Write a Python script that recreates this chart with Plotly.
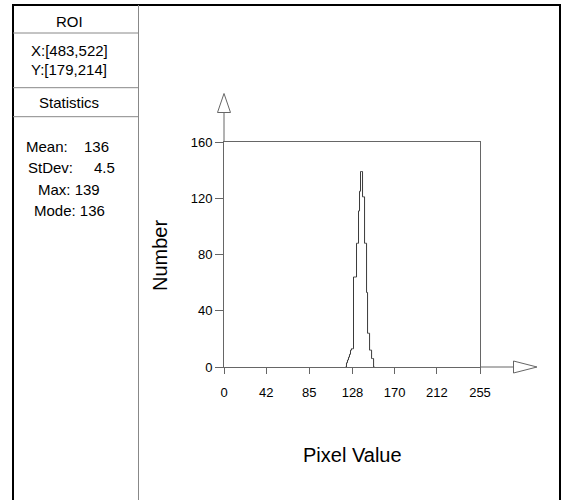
import plotly.graph_objects as go

# ---- data ----
pixel_values = list(range(121, 151))
counts = [0, 3, 5, 7, 9, 12, 13, 13, 64, 64, 64, 88, 88, 111, 125, 139, 139,
          121, 121, 88, 88, 53, 24, 24, 12, 12, 6, 6, 0, 0]
x_ticks = [0, 42, 85, 128, 170, 212, 255]
y_ticks = [0, 40, 80, 120, 160]
x_range = [0, 255]
y_range = [0, 160]

roi_header = "ROI"
roi_x = "X:[483,522]"
roi_y = "Y:[179,214]"
stats_header = "Statistics"
stat_rows = [("Mean:", "136"), ("StDev:", "4.5")]
stat_single = ["Max: 139", "Mode: 136"]

# ---- layout geometry (pixels) ----
W, H = 562, 500
L, R, T, B = 224, 480, 142, 367
FONT = "Liberation Sans, Arial, sans-serif"
AX = "#666666"


def px(x):
    return (x - L) / (R - L)


def py(y):
    return (B - y) / (B - T)


fig = go.Figure()
fig.add_trace(go.Scatter(x=pixel_values, y=counts, mode="lines",
                         line=dict(color="#3a3a3a", width=1, shape="hv"),
                         hoverinfo="skip", showlegend=False))

shapes = []
# outer border
shapes.append(dict(type="rect", xref="paper", yref="paper",
                   x0=px(13), x1=px(560), y0=py(5), y1=py(520),
                   line=dict(color="black", width=2)))
# left panel divider
shapes.append(dict(type="line", xref="paper", yref="paper",
                   x0=px(138.5), x1=px(138.5), y0=py(5), y1=py(520),
                   line=dict(color="#888888", width=1)))
for yy in [33, 87.7, 116.7]:
    shapes.append(dict(type="line", xref="paper", yref="paper",
                       x0=px(13), x1=px(138.5), y0=py(yy), y1=py(yy),
                       line=dict(color="#888888", width=1)))
# axis extensions
shapes.append(dict(type="line", xref="paper", yref="paper",
                   x0=0, x1=0, y0=1, y1=py(112.5),
                   line=dict(color=AX, width=1)))
shapes.append(dict(type="line", xref="paper", yref="paper",
                   x0=1, x1=px(513.5), y0=0, y1=0,
                   line=dict(color=AX, width=1)))
# arrow heads
shapes.append(dict(type="path", xref="paper", yref="paper",
                   path=f"M {px(224)} {py(93.5)} L {px(217.5)} {py(112.5)} L {px(230.5)} {py(112.5)} Z",
                   fillcolor="white", line=dict(color=AX, width=1)))
shapes.append(dict(type="path", xref="paper", yref="paper",
                   path=f"M {px(537)} {py(367)} L {px(513.5)} {py(361)} L {px(513.5)} {py(373)} Z",
                   fillcolor="white", line=dict(color=AX, width=1)))

ann = []


def text(t, x, y, anchor="center", size=15, angle=0):
    ann.append(dict(text=t, xref="paper", yref="paper", x=px(x), y=py(y),
                    xanchor=anchor, yanchor="middle", showarrow=False,
                    textangle=angle, font=dict(family=FONT, size=size, color="black")))


text(roi_header, 69, 21)
text(roi_x, 69, 50.5)
text(roi_y, 69, 70)
text(stats_header, 69, 102)
for (lab, val), yy, xl, xr in zip(stat_rows, [146.7, 167.7], [24, 26], [111, 117]):
    text(lab, xl, yy, anchor="left")
    text(val, xr, yy, anchor="right")
for t, yy in zip(stat_single, [189, 210]):
    text(t, 69, yy)

text("Number", 160, 256, size=20, angle=-90)
text("Pixel Value", 352, 455, size=20)

fig.update_layout(
    width=W, height=H,
    margin=dict(l=L, r=W - R, t=T, b=H - B, pad=0),
    paper_bgcolor="white", plot_bgcolor="white",
    shapes=shapes, annotations=ann, showlegend=False,
    font=dict(family=FONT, size=13, color="black"),
    xaxis=dict(range=x_range, tickvals=x_ticks, ticktext=[str(v) for v in x_ticks],
               showgrid=False, zeroline=False, showline=True, mirror=True,
               linecolor=AX, linewidth=1, ticks="outside", ticklen=6, tickcolor=AX,
               tickfont=dict(family=FONT, size=13, color="black"),
               ticklabelstandoff=7, fixedrange=True),
    yaxis=dict(range=y_range, tickvals=y_ticks, ticktext=[str(v) for v in y_ticks],
               showgrid=False, zeroline=False, showline=True, mirror=True,
               linecolor=AX, linewidth=1, ticks="outside", ticklen=8, tickcolor=AX,
               tickfont=dict(family=FONT, size=13, color="black"), fixedrange=True),
)

fig.write_html("out.html", config={"displayModeBar": False},
               post_script="document.body.style.margin='0';document.body.style.padding='0';")
